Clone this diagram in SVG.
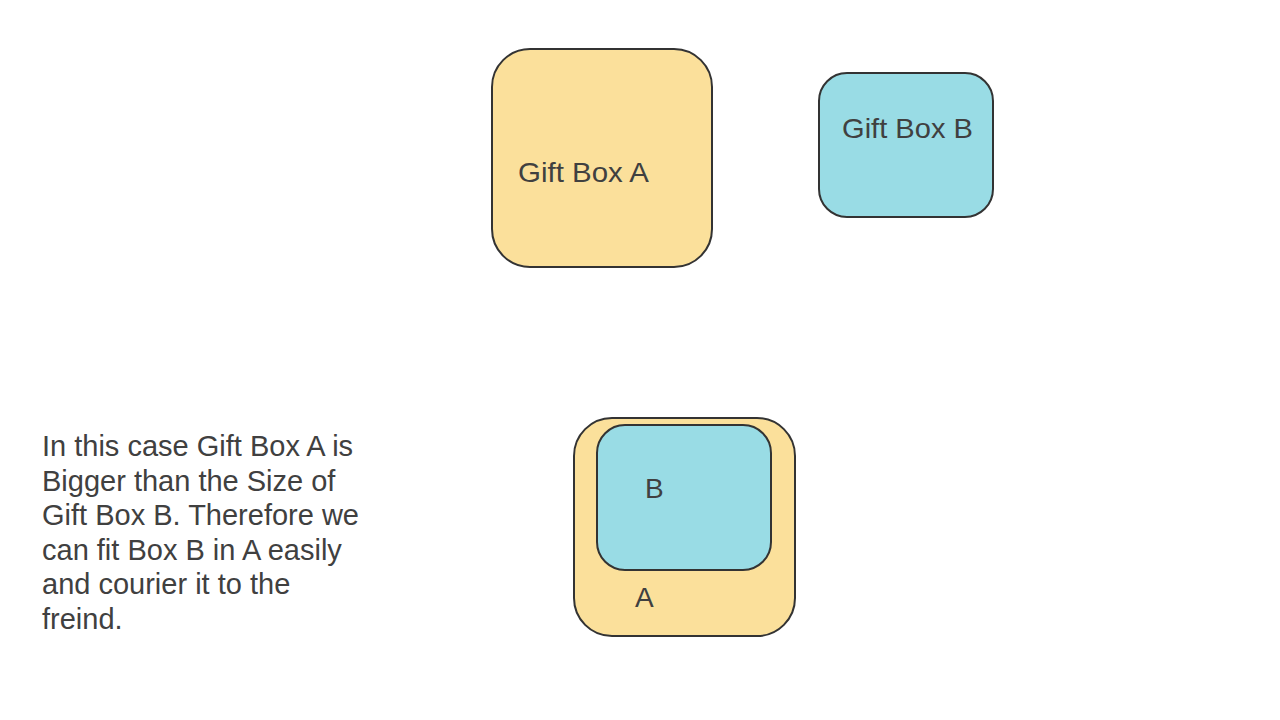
<svg xmlns="http://www.w3.org/2000/svg" width="1280" height="720" viewBox="0 0 1280 720">
<style>
.a{fill:#FBE09B;stroke:#333333;stroke-width:2}
.b{fill:#99DCE5;stroke:#333333;stroke-width:2}
.l{font-size:28px}
.p{font-size:29px}
</style>
<rect width="1280" height="720" fill="#FFFFFF"/>
<g font-family="Liberation Sans, Arimo, Arial, Helvetica, sans-serif" fill="#404040">
<g id="giftBoxA">
<rect class="a" x="492" y="49" width="220" height="218" rx="38" ry="38"/>
<text class="l" x="518" y="182" textLength="131" lengthAdjust="spacingAndGlyphs">Gift Box A</text>
</g>
<g id="giftBoxB">
<rect class="b" x="819" y="73" width="174" height="144" rx="28" ry="28"/>
<text class="l" x="842" y="138" textLength="131" lengthAdjust="spacingAndGlyphs">Gift Box B</text>
</g>
<g id="boxAOuter">
<rect class="a" x="574" y="418" width="221" height="218" rx="38" ry="38"/>
<text class="l" x="635" y="607">A</text>
</g>
<g id="boxBInner">
<rect class="b" x="597" y="425" width="174" height="145" rx="28" ry="28"/>
<text class="l" x="645" y="498">B</text>
</g>
<g id="connectors"/>
<g id="description">
<text class="p" x="42" y="456">In this case Gift Box A is</text>
<text class="p" x="42" y="490.5">Bigger than the Size of</text>
<text class="p" x="42" y="525">Gift Box B. Therefore we</text>
<text class="p" x="42" y="559.5">can fit Box B in A easily</text>
<text class="p" x="42" y="594">and courier it to the</text>
<text class="p" x="42" y="628.5">freind.</text>
</g>
</g>
</svg>
